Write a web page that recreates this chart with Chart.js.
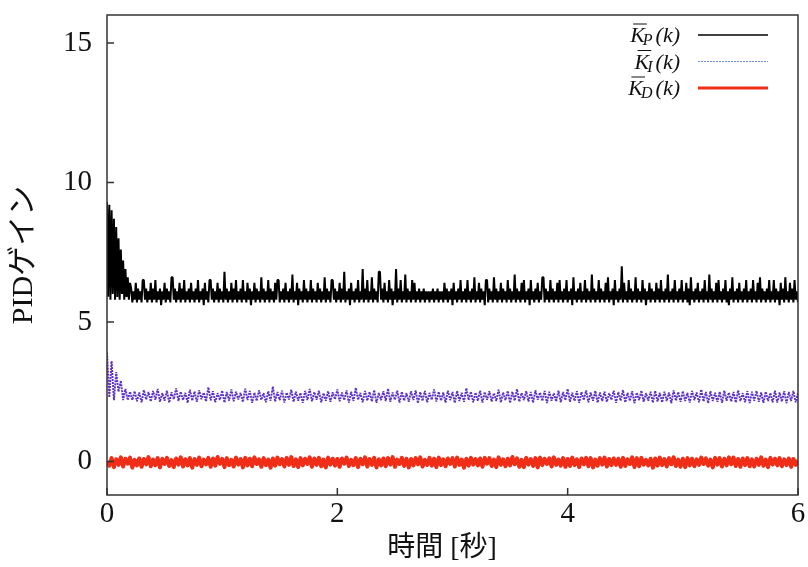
<!DOCTYPE html>
<html>
<head>
<meta charset="utf-8">
<script src="https://cdn.jsdelivr.net/npm/chart.js@4.4.0/dist/chart.umd.min.js"></script>
<style>
  html, body { margin: 0; padding: 0; background: #fff; }
  #wrap { width: 808px; height: 567px; }
</style>
</head>
<body>
<div id="wrap"><canvas id="chart" width="808" height="567"></canvas></div>
<script>
// sampling steps of the plotted series [s]
const stepP = 0.01;
const stepID = 0.02;
const xTicks = [0, 2, 4, 6];
const yTicks = [0, 5, 10, 15];
const subscripts = ['P', 'I', 'D'];

// K_P(k), every 0.01 s
const kP = [
  9.3, 5.9, 9.2, 5.8, 9.0, 6.0, 8.7, 5.8, 8.4, 5.9, 8.0, 5.8, 7.6, 6.0, 7.2, 5.8, 6.9, 5.9, 6.6, 5.8, 6.4,
  6.2, 5.7, 6.1, 5.8, 6.4, 5.7, 6.2, 5.8, 6.1, 5.7,
  6.5, 6.5, 5.8, 6.2, 5.7, 6.1, 5.8, 6.4, 5.7, 6.2,
  5.8, 6.5, 5.7, 6.1, 5.8, 6.2, 5.6, 6.1, 5.8, 6.4,
  5.7, 6.2, 5.8, 6.1, 5.7, 6.6, 6.6, 5.8, 6.2, 5.7,
  6.1, 5.8, 6.4, 5.7, 6.2, 5.8, 6.5, 5.7, 6.1, 5.8,
  6.2, 5.7, 6.4, 5.8, 6.1, 5.7, 6.2, 5.8, 6.5, 5.7,
  6.1, 5.8, 6.2, 5.6, 6.4, 5.8, 6.1, 5.7, 6.5, 6.5,
  5.8, 6.2, 5.7, 6.1, 5.8, 6.4, 5.7, 6.2, 5.8, 6.1,
  5.7, 6.8, 5.8, 6.2, 5.7, 6.1, 5.8, 6.4, 5.7, 6.2,
  5.8, 6.5, 5.7, 6.1, 5.8, 6.2, 5.7, 6.5, 5.8, 6.1,
  5.7, 6.4, 5.8, 6.2, 5.6, 6.1, 5.8, 6.4, 5.7, 6.2,
  5.8, 6.1, 5.7, 6.6, 5.8, 6.2, 5.7, 6.1, 5.8, 6.5,
  5.7, 6.2, 5.8, 6.1, 5.7, 6.4, 5.8, 6.5, 6.5, 5.7,
  6.1, 5.8, 6.2, 5.7, 6.4, 5.8, 6.1, 5.7, 6.2, 5.8,
  6.7, 5.7, 6.1, 5.8, 6.4, 5.6, 6.2, 5.8, 6.1, 5.7,
  6.5, 5.8, 6.2, 5.7, 6.1, 5.8, 6.5, 5.7, 6.2, 5.8,
  6.1, 5.7, 6.4, 5.8, 6.2, 5.7, 6.1, 5.8, 6.6, 5.7,
  6.2, 5.8, 6.1, 5.7, 6.5, 6.5, 5.8, 6.2, 5.7, 6.1,
  5.8, 6.4, 5.7, 6.2, 5.8, 6.8, 5.7, 6.1, 5.8, 6.2,
  5.6, 6.4, 5.8, 6.1, 5.7, 6.2, 5.8, 6.5, 5.7, 6.1,
  5.8, 6.9, 5.7, 6.2, 5.8, 6.5, 5.7, 6.1, 5.8, 6.6,
  5.7, 6.2, 5.8, 6.1, 5.7, 6.8, 6.8, 5.8, 6.2, 5.7,
  6.4, 5.8, 6.1, 5.7, 6.5, 5.8, 6.2, 5.6, 6.1, 5.8,
  6.9, 5.7, 6.2, 5.8, 6.5, 5.7, 6.1, 5.8, 6.7, 5.7,
  6.2, 5.8, 6.1, 5.7, 6.5, 5.8, 6.4, 5.7, 6.1, 5.8,
  6.2, 5.7, 6.1, 5.8, 6.2, 5.7, 6.1, 5.8, 6.1, 5.7,
  6.1, 5.8, 6.2, 5.7, 6.1, 5.8, 6.2, 5.7, 6.1, 5.8,
  6.1, 5.7, 6.4, 5.8, 6.2, 5.7, 6.1, 5.8, 6.2, 5.6,
  6.4, 5.8, 6.1, 5.7, 6.2, 5.8, 6.5, 5.7, 6.1, 5.8,
  6.2, 5.7, 6.5, 5.8, 6.1, 5.7, 6.2, 5.8, 6.6, 5.7,
  6.1, 5.8, 6.4, 5.7, 6.2, 5.8, 6.1, 5.6, 6.5, 6.5,
  5.7, 6.2, 5.8, 6.1, 5.7, 6.6, 5.8, 6.2, 5.7, 6.1,
  5.8, 6.4, 5.7, 6.2, 5.8, 6.1, 5.7, 6.5, 5.8, 6.2,
  5.7, 6.1, 5.8, 6.7, 5.7, 6.2, 5.8, 6.1, 5.7, 6.4,
  5.8, 6.5, 5.7, 6.1, 5.8, 6.2, 5.6, 6.5, 5.8, 6.1,
  5.7, 6.2, 5.8, 6.4, 5.7, 6.1, 5.8, 6.6, 6.6, 5.7,
  6.2, 5.8, 6.1, 5.7, 6.5, 5.8, 6.2, 5.7, 6.1, 5.8,
  6.4, 5.7, 6.5, 5.8, 6.1, 5.7, 6.2, 5.8, 6.5, 5.7,
  6.1, 5.8, 6.2, 5.6, 6.6, 5.8, 6.1, 5.7, 6.2, 5.8,
  6.4, 5.7, 6.1, 5.8, 6.5, 5.7, 6.2, 5.8, 6.1, 5.7,
  6.7, 5.8, 6.2, 5.7, 6.1, 5.8, 6.5, 5.7, 6.2, 5.8,
  6.1, 5.7, 6.4, 5.8, 6.6, 5.7, 6.1, 5.8, 6.2, 5.6,
  6.5, 5.8, 6.1, 5.7, 6.2, 5.8, 7.0, 5.7, 6.4, 5.8,
  6.1, 5.7, 6.5, 5.8, 6.2, 5.7, 6.1, 5.8, 6.6, 5.7,
  6.2, 5.8, 6.1, 5.7, 6.5, 5.8, 6.2, 5.6, 6.1, 5.8,
  6.4, 5.7, 6.2, 5.8, 6.1, 5.7, 6.4, 5.8, 6.2, 5.7,
  6.5, 5.8, 6.1, 5.7, 6.2, 5.8, 6.7, 5.7, 6.1, 5.8,
  6.2, 5.7, 6.5, 5.8, 6.1, 5.7, 6.2, 5.8, 6.5, 5.7,
  6.1, 5.8, 6.4, 5.7, 6.2, 5.6, 6.6, 5.8, 6.1, 5.7,
  6.2, 5.8, 6.4, 5.7, 6.1, 5.8, 6.2, 5.7, 6.5, 5.8,
  6.1, 5.7, 6.7, 5.8, 6.2, 5.7, 6.1, 5.8, 6.4, 5.7,
  6.5, 5.8, 6.1, 5.7, 6.2, 5.8, 6.5, 5.7, 6.1, 5.6,
  6.2, 5.8, 6.6, 5.7, 6.1, 5.8, 6.2, 5.7, 6.4, 5.8,
  6.1, 5.7, 6.2, 5.8, 6.5, 5.7, 6.1, 5.8, 6.2, 5.7,
  6.5, 5.8, 6.1, 5.7, 6.4, 5.8, 6.6, 5.7, 6.2, 5.8,
  6.1, 5.7, 6.2, 5.8, 6.5, 5.7, 6.1, 5.8, 6.5, 5.7,
  6.2, 5.8, 6.1, 5.6, 6.4, 5.8, 6.2, 5.7, 6.6, 5.8,
  6.1, 5.7, 6.4, 5.8, 6.2, 5.7, 6.5, 5.8, 6.1, 5.7
];

// K_I(k), every 0.02 s
const kI = [
  3.9, 2.3, 3.6, 2.2, 3.2, 2.5, 2.9, 2.2, 2.6, 2.20, 2.50,
  2.20, 2.52, 2.16, 2.47, 2.12, 2.56, 2.22, 2.49, 2.15, 2.53,
  2.21, 2.60, 2.14, 2.45, 2.18, 2.54, 2.11, 2.48, 2.23, 2.62,
  2.17, 2.50, 2.20, 2.46, 2.10, 2.57, 2.18, 2.51, 2.14, 2.55,
  2.23, 2.47, 2.15, 2.66, 2.19, 2.52, 2.12, 2.45, 2.21, 2.54,
  2.11, 2.49, 2.18, 2.58, 2.16, 2.50, 2.22, 2.46, 2.13, 2.61,
  2.20, 2.53, 2.10, 2.47, 2.17, 2.55, 2.21, 2.45, 2.12, 2.52,
  2.18, 2.68, 2.15, 2.49, 2.20, 2.54, 2.11, 2.47, 2.22, 2.57,
  2.14, 2.50, 2.18, 2.46, 2.10, 2.53, 2.20, 2.60, 2.16, 2.49,
  2.21, 2.54, 2.12, 2.45, 2.18, 2.52, 2.14, 2.48, 2.23, 2.58,
  2.16, 2.47, 2.20, 2.55, 2.11, 2.50, 2.17, 2.64, 2.21, 2.46,
  2.12, 2.53, 2.18, 2.49, 2.15, 2.56, 2.10, 2.46, 2.20, 2.52,
  2.17, 2.61, 2.14, 2.47, 2.21, 2.54, 2.11, 2.50, 2.18, 2.45,
  2.14, 2.52, 2.20, 2.55, 2.09, 2.49, 2.17, 2.53, 2.12, 2.46,
  2.21, 2.58, 2.15, 2.50, 2.18, 2.47, 2.11, 2.54, 2.20, 2.49,
  2.10, 2.53, 2.17, 2.46, 2.14, 2.63, 2.20, 2.50, 2.12, 2.47,
  2.18, 2.54, 2.11, 2.49, 2.21, 2.52, 2.15, 2.45, 2.17, 2.57,
  2.12, 2.47, 2.20, 2.53, 2.10, 2.50, 2.18, 2.59, 2.14, 2.46,
  2.20, 2.52, 2.15, 2.49, 2.11, 2.55, 2.21, 2.47, 2.17, 2.53,
  2.09, 2.50, 2.18, 2.45, 2.15, 2.54, 2.12, 2.49, 2.20, 2.60,
  2.14, 2.46, 2.17, 2.52, 2.10, 2.49, 2.20, 2.55, 2.12, 2.47,
  2.18, 2.53, 2.11, 2.47, 2.17, 2.50, 2.14, 2.45, 2.21, 2.54,
  2.10, 2.49, 2.18, 2.56, 2.12, 2.46, 2.17, 2.52, 2.09, 2.47,
  2.20, 2.54, 2.14, 2.45, 2.18, 2.50, 2.11, 2.53, 2.15, 2.46,
  2.12, 2.50, 2.17, 2.47, 2.09, 2.55, 2.18, 2.49, 2.14, 2.52,
  2.17, 2.46, 2.11, 2.53, 2.20, 2.47, 2.12, 2.58, 2.15, 2.49,
  2.09, 2.52, 2.17, 2.46, 2.14, 2.50, 2.10, 2.54, 2.18, 2.47,
  2.15, 2.49, 2.11, 2.55, 2.17, 2.45, 2.12, 2.52, 2.09, 2.50,
  2.18, 2.53, 2.14, 2.47, 2.10, 2.50, 2.17, 2.46, 2.12, 2.54,
  2.11, 2.47, 2.15, 2.52, 2.09, 2.49, 2.17, 2.53, 2.12, 2.46
];

// K_D(k), every 0.02 s
const kD = [
  0.00,
  -0.15, 0.12, -0.20, 0.08, -0.12, 0.15, -0.18, 0.10, -0.08, 0.14,
  -0.22, 0.06, -0.14, 0.11, -0.19, 0.09, -0.10, 0.16, -0.17, 0.07,
  -0.13, 0.12, -0.21, 0.10, -0.09, 0.13, -0.16, 0.05, -0.20, 0.11,
  -0.11, 0.15, -0.18, 0.08, -0.14, 0.12, -0.22, 0.09, -0.12, 0.14,
  -0.17, 0.07, -0.10, 0.13, -0.19, 0.11, -0.15, 0.16, -0.08, 0.10,
  -0.20, 0.12, -0.13, 0.06, -0.18, 0.14, -0.11, 0.09, -0.21, 0.13,
  -0.14, 0.10, -0.17, 0.15, -0.09, 0.08, -0.19, 0.12, -0.13, 0.07,
  -0.22, 0.11, -0.15, 0.14, -0.10, 0.09, -0.18, 0.13, -0.12, 0.16,
  -0.16, 0.08, -0.20, 0.12, -0.14, 0.10, -0.09, 0.15, -0.19, 0.11,
  -0.12, 0.13, -0.17, 0.07, -0.21, 0.14, -0.11, 0.10, -0.15, 0.09,
  -0.19, 0.11, -0.08, 0.14, -0.16, 0.06, -0.13, 0.12, -0.20, 0.10,
  -0.10, 0.15, -0.18, 0.09, -0.12, 0.13, -0.21, 0.08, -0.14, 0.11,
  -0.17, 0.12, -0.11, 0.16, -0.19, 0.07, -0.09, 0.13, -0.16, 0.10,
  -0.21, 0.09, -0.14, 0.12, -0.10, 0.15, -0.18, 0.06, -0.12, 0.13,
  -0.15, 0.10, -0.20, 0.14, -0.13, 0.08, -0.17, 0.11, -0.09, 0.12,
  -0.18, 0.14, -0.12, 0.07, -0.22, 0.10, -0.15, 0.13, -0.11, 0.09,
  -0.14, 0.11, -0.19, 0.13, -0.08, 0.12, -0.16, 0.07, -0.20, 0.15,
  -0.12, 0.08, -0.17, 0.10, -0.14, 0.16, -0.10, 0.11, -0.19, 0.06,
  -0.20, 0.13, -0.11, 0.09, -0.16, 0.12, -0.21, 0.14, -0.13, 0.10,
  -0.09, 0.11, -0.18, 0.15, -0.12, 0.07, -0.15, 0.12, -0.19, 0.09,
  -0.16, 0.14, -0.13, 0.08, -0.20, 0.11, -0.10, 0.13, -0.17, 0.12,
  -0.21, 0.07, -0.15, 0.12, -0.11, 0.14, -0.18, 0.09, -0.13, 0.11,
  -0.12, 0.10, -0.19, 0.13, -0.16, 0.08, -0.09, 0.15, -0.20, 0.12,
  -0.17, 0.13, -0.11, 0.06, -0.14, 0.10, -0.22, 0.11, -0.15, 0.14,
  -0.13, 0.09, -0.18, 0.12, -0.10, 0.15, -0.16, 0.07, -0.19, 0.10,
  -0.20, 0.12, -0.14, 0.10, -0.17, 0.08, -0.12, 0.14, -0.09, 0.11,
  -0.15, 0.07, -0.21, 0.13, -0.11, 0.12, -0.18, 0.10, -0.14, 0.15,
  -0.10, 0.14, -0.16, 0.09, -0.19, 0.11, -0.13, 0.12, -0.17, 0.08,
  -0.18, 0.10, -0.12, 0.15, -0.15, 0.07, -0.20, 0.13, -0.11, 0.10,
  -0.14, 0.12, -0.17, 0.08, -0.13, 0.11, -0.19, 0.09, -0.12, 0.05
];

const toPoints = (arr, step) => arr.map((v, i) => ({x: +(i * step).toFixed(3), y: v}));

const serif = '"Liberation Serif", "Noto Sans CJK JP", serif';

// box around the plot + inward tick marks
const framePlugin = {
  id: 'frame',
  afterDatasetsDraw(chart) {
    const {ctx, chartArea: a, scales: {x, y}} = chart;
    ctx.save();
    ctx.strokeStyle = '#333';
    ctx.lineWidth = 1.5;
    ctx.strokeRect(a.left, a.top, a.right - a.left, a.bottom - a.top);
    ctx.beginPath();
    yTicks.forEach(v => {
      const py = y.getPixelForValue(v);
      ctx.moveTo(a.left, py);
      ctx.lineTo(a.left + 7, py);
    });
    xTicks.forEach(v => {
      const px = x.getPixelForValue(v);
      ctx.moveTo(px, a.bottom);
      ctx.lineTo(px, a.bottom - 7);
    });
    ctx.stroke();
    ctx.restore();
  }
};

// legend with overlined K and subscripts
const legendPlugin = {
  id: 'kLegend',
  afterDraw(chart) {
    const {ctx, chartArea: a} = chart;
    const textRight = a.right - 118;
    chart.data.datasets.forEach((ds, i) => {
      const cy = a.top + 20 + i * 26.5;
      ctx.save();
      ctx.strokeStyle = ds.legendColor || ds.borderColor;
      ctx.lineWidth = ds.legendWidth || ds.borderWidth;
      ctx.setLineDash(ds.borderDash || []);
      ctx.beginPath();
      ctx.moveTo(a.right - 100, cy);
      ctx.lineTo(a.right - 30, cy);
      ctx.stroke();
      ctx.setLineDash([]);

      const base = cy + 7;
      const mainFont = 'italic 22px ' + serif;
      const subFont = 'italic 16px ' + serif;
      ctx.font = mainFont;
      const wK = ctx.measureText('K').width;
      const wP = ctx.measureText('(k)').width;
      ctx.font = subFont;
      const wS = ctx.measureText(subscripts[i]).width;
      const x0 = textRight - (wK + wS + wP + 1);
      ctx.fillStyle = '#111';
      ctx.textBaseline = 'alphabetic';
      ctx.font = mainFont;
      ctx.fillText('K', x0, base);
      ctx.fillText('(k)', x0 + wK + wS + 1, base);
      ctx.font = subFont;
      ctx.fillText(subscripts[i], x0 + wK - 2, base + 3);
      ctx.strokeStyle = '#111';
      ctx.lineWidth = 1;
      ctx.beginPath();
      ctx.moveTo(x0 + 3, base - 18);
      ctx.lineTo(x0 + wK + 2, base - 18);
      ctx.stroke();
      ctx.restore();
    });
  }
};

new Chart(document.getElementById('chart'), {
  type: 'line',
  data: {
    datasets: [
      {
        label: 'K̄P(k)',
        data: toPoints(kP, stepP),
        borderColor: '#000',
        borderWidth: 2,
        legendWidth: 1.3,
        borderJoinStyle: 'bevel',
        pointRadius: 0
      },
      {
        label: 'K̄I(k)',
        data: toPoints(kI, stepID),
        borderColor: '#5a30c8',
        legendColor: '#6a8ee0',
        borderWidth: 1.9,
        legendWidth: 1.1,
        borderDash: [2, 1],
        borderJoinStyle: 'bevel',
        pointRadius: 0
      },
      {
        label: 'K̄D(k)',
        data: toPoints(kD, stepID),
        borderColor: '#f02e18',
        borderWidth: 4,
        legendWidth: 3,
        borderJoinStyle: 'round',
        pointRadius: 0
      }
    ]
  },
  options: {
    responsive: false,
    animation: false,
    devicePixelRatio: 1,
    layout: {padding: {top: 15, right: 10, left: 0, bottom: 0}},
    plugins: {legend: {display: false}, tooltip: {enabled: false}},
    scales: {
      x: {
        type: 'linear',
        min: 0,
        max: 6,
        afterBuildTicks: s => { s.ticks = xTicks.map(v => ({value: v})); },
        afterFit: s => { s.height = 72; },
        grid: {display: false, drawTicks: false},
        border: {display: false},
        ticks: {color: '#111', padding: 2, font: {family: serif, size: 29}},
        title: {display: true, text: '時間 [秒]   ', color: '#111', padding: {top: 0, bottom: 2}, font: {family: serif, size: 28}}
      },
      y: {
        min: -1.2,
        max: 16,
        afterBuildTicks: s => { s.ticks = yTicks.map(v => ({value: v})); },
        afterFit: s => { s.width = 107; s.paddingTop = 0; s.paddingBottom = 0; },
        grid: {display: false, drawTicks: false},
        border: {display: false},
        ticks: {color: '#111', padding: 15, font: {family: serif, size: 29}},
        title: {display: true, text: 'PIDゲイン', color: '#111', padding: {top: 6, bottom: 0}, font: {family: serif, size: 30}}
      }
    }
  },
  plugins: [framePlugin, legendPlugin]
});
</script>
</body>
</html>
